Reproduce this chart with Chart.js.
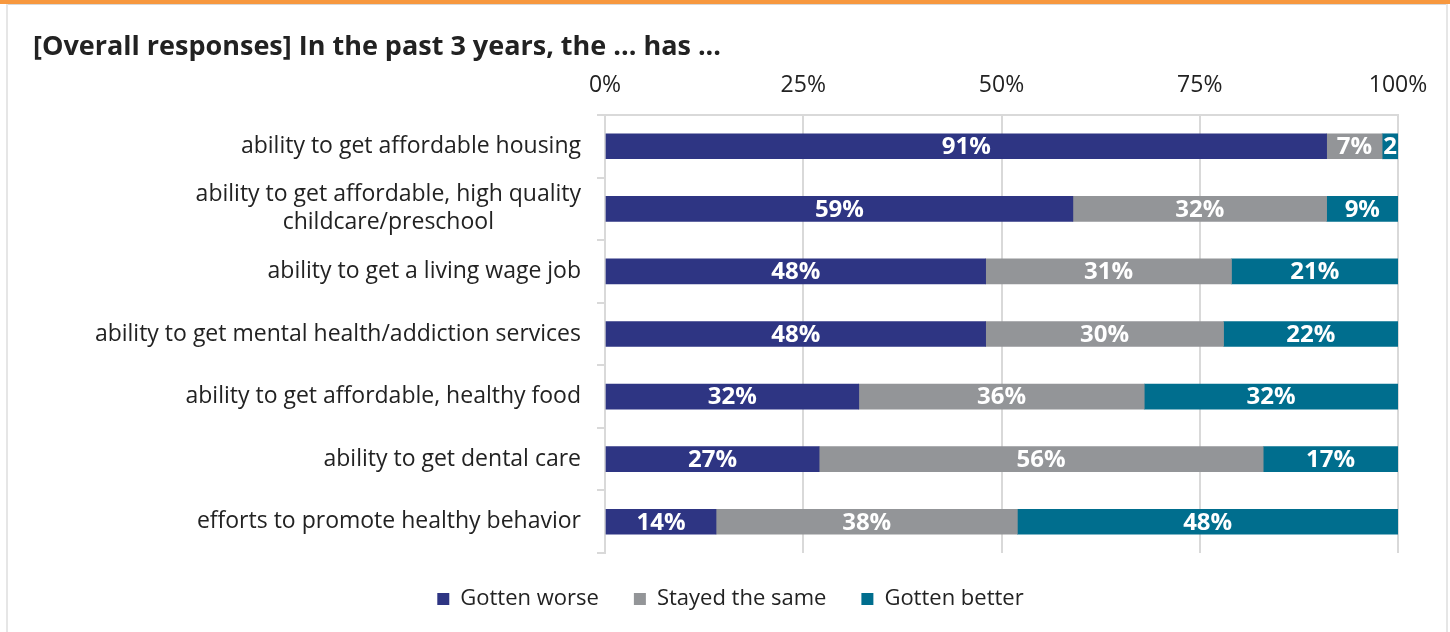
<!DOCTYPE html>
<html>
<head>
<meta charset="utf-8">
<script src="https://cdn.jsdelivr.net/npm/chart.js@4.4.0/dist/chart.umd.min.js"></script>
<style>
  html, body { margin:0; padding:0; background:#ffffff; overflow:hidden; }
  #wrap { position:relative; width:1450px; height:632px; }
  #topbar { position:absolute; left:0; top:0; width:1450px; height:4px; background:#F7983F; }
  #topline { position:absolute; left:6px; top:4px; width:1442px; height:1px; background:#d8d8d8; }
  #lline { position:absolute; left:6px; top:4px; width:2px; height:628px; background:#e6e6e6; }
  #rline { position:absolute; left:1446px; top:4px; width:2px; height:628px; background:#e6e6e6; }
  canvas { position:absolute; left:0; top:0; }
</style>
</head>
<body>
<div id="wrap">
  <div id="topbar"></div>
  <div id="topline"></div>
  <div id="lline"></div>
  <div id="rline"></div>
  <canvas id="c" width="1450" height="632"></canvas>
</div>
<script>
const categories = [
  "ability to get affordable housing",
  ["ability to get affordable, high quality", "childcare/preschool"],
  "ability to get a living wage job",
  "ability to get mental health/addiction services",
  "ability to get affordable, healthy food",
  "ability to get dental care",
  "efforts to promote healthy behavior"
];
const seriesNames = ["Gotten worse", "Stayed the same", "Gotten better"];
const gottenWorse    = [91, 59, 48, 48, 32, 27, 14];
const stayedSame     = [7, 32, 31, 30, 36, 56, 38];
const gottenBetter   = [2, 9, 21, 22, 32, 17, 48];
const xTicks = [0, 25, 50, 75, 100];

const colors = ["#2E3583", "#939598", "#006E8E"];
const FONT = "'Open Sans', sans-serif";

const yLabelPlugin = {
  id: 'yLabels',
  afterDraw(chart) {
    const ctx = chart.ctx, y = chart.scales.y;
    ctx.save();
    ctx.font = "23px " + FONT;
    ctx.fillStyle = "#222222";
    ctx.textBaseline = "middle";
    ctx.textAlign = "center";
    categories.forEach((lab, i) => {
      const lines = Array.isArray(lab) ? lab : [lab];
      const w = Math.max(...lines.map(l => ctx.measureText(l).width));
      const cx = y.right - 24 - w / 2;
      const cy = y.getPixelForValue(i);
      lines.forEach((l, j) => ctx.fillText(l, cx, cy + (j - (lines.length - 1) / 2) * 28));
    });
    ctx.restore();
  }
};

const barLabelPlugin = {
  id: 'barLabels',
  afterDatasetsDraw(chart) {
    const ctx = chart.ctx;
    ctx.save();
    ctx.font = "bold 24px " + FONT;
    ctx.fillStyle = "#ffffff";
    ctx.textBaseline = "middle";
    ctx.textAlign = "center";
    chart.data.datasets.forEach((ds, di) => {
      const meta = chart.getDatasetMeta(di);
      meta.data.forEach((bar, i) => {
        const v = ds.data[i];
        const left = Math.min(bar.x, bar.base), right = Math.max(bar.x, bar.base);
        const w = right - left;
        let txt = v + "%";
        while (txt.length > 1 && ctx.measureText(txt).width > w - 2) txt = txt.slice(0, -1);
        ctx.save();
        ctx.beginPath();
        ctx.rect(left, bar.y - bar.height / 2, w, bar.height);
        ctx.clip();
        ctx.fillText(txt, (left + right) / 2, bar.y + 1);
        ctx.restore();
      });
    });
    ctx.restore();
  }
};

const legendShiftPlugin = {
  id: 'legendShift',
  afterLayout(chart) {
    if (chart.legend) { chart.legend.left += 15; chart.legend.right += 15; }
  }
};

new Chart(document.getElementById('c'), {
  type: 'bar',
  data: {
    labels: categories,
    datasets: [
      { label: seriesNames[0], data: gottenWorse,  backgroundColor: colors[0] },
      { label: seriesNames[1], data: stayedSame,   backgroundColor: colors[1] },
      { label: seriesNames[2], data: gottenBetter, backgroundColor: colors[2] }
    ]
  },
  options: {
    indexAxis: 'y',
    responsive: false,
    animation: false,
    layout: { padding: { left: 33, right: 52, top: 24, bottom: 12 } },
    datasets: { bar: { barThickness: 25, borderWidth: 0 } },
    scales: {
      x: {
        position: 'top',
        stacked: true,
        min: 0, max: 100,
        afterBuildTicks: (s) => { s.ticks = xTicks.map(v => ({ value: v })); },
        afterFit: (s) => { s.height = 47.6; },
        ticks: {
          callback: (v) => v + '%',
          color: '#222222',
          font: { family: FONT, size: 23 },
          padding: 16,
          maxRotation: 0
        },
        grid: { color: '#d9d9d9', lineWidth: 2, drawTicks: false },
        border: { display: true, color: '#d9d9d9', width: 2 }
      },
      y: {
        stacked: true,
        ticks: { display: false },
        afterFit: (s) => { s.width = 605 - 33; },
        grid: { drawOnChartArea: false, drawTicks: true, tickLength: 8, color: '#d9d9d9', lineWidth: 2 },
        border: { display: true, color: '#d9d9d9', width: 2 }
      }
    },
    plugins: {
      title: {
        display: true,
        text: '[Overall responses] In the past 3 years, the ... has ...',
        align: 'start',
        color: '#222222',
        font: { family: FONT, size: 27, weight: 'bold' },
        padding: { top: 7, bottom: 4 }
      },
      legend: {
        position: 'bottom',
        labels: {
          boxWidth: 12, boxHeight: 12,
          padding: 35,
          color: '#222222',
          font: { family: FONT, size: 22 }
        }
      },
      tooltip: { enabled: false }
    }
  },
  plugins: [yLabelPlugin, barLabelPlugin, legendShiftPlugin]
});
</script>
</body>
</html>
